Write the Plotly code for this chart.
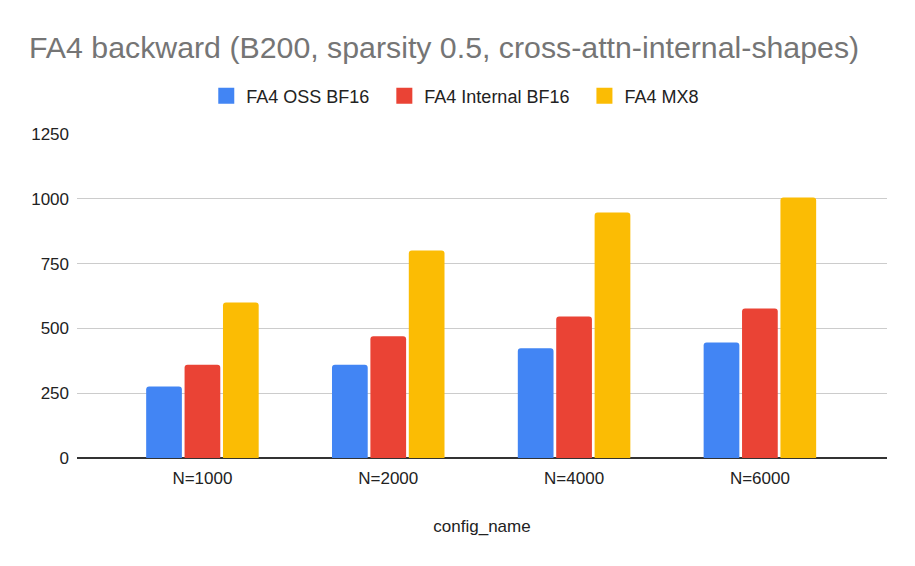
import plotly.graph_objects as go

# Chart data
config_names = ["N=1000", "N=2000", "N=4000", "N=6000"]
oss_bf16 = [276, 360, 423, 446]
internal_bf16 = [360, 470, 546, 577]
mx8 = [600, 801, 947, 1005]

y_ticks = [0, 250, 500, 750, 1000, 1250]

series = [
    ("FA4 OSS BF16", oss_bf16, "#4285F4"),
    ("FA4 Internal BF16", internal_bf16, "#EA4335"),
    ("FA4 MX8", mx8, "#FBBC04"),
]

FONT = "Liberation Sans, Arial, sans-serif"
NBSP = "\u00a0"

fig = go.Figure()
for i, (name, values, color) in enumerate(series):
    fig.add_trace(
        go.Bar(x=config_names, y=values, name=name, showlegend=False,
               marker=dict(color=color, cornerradius=3, line=dict(width=0)))
    )
    # legend proxy with a bigger square swatch, like the sheets chart
    label = name + (NBSP * 2 if i < len(series) - 1 else "")
    fig.add_trace(
        go.Scatter(x=[None], y=[None], mode="markers", name=label,
                   marker=dict(symbol="square", size=16, color=color),
                   hoverinfo="skip")
    )

# page body adds an 8px offset, so positions below are shifted back by 8px
fig.update_layout(
    width=915, height=566,
    paper_bgcolor="white", plot_bgcolor="white",
    font=dict(family=FONT, color="#222222"),
    barmode="group", bargap=0.38, bargroupgap=0.07,
    margin=dict(l=69, r=36, t=126, b=116),
    title=dict(
        text="FA4 backward (B200, sparsity 0.5, cross-attn-internal-shapes)",
        x=21 / 915, xanchor="left", xref="container",
        y=1 - 39 / 566, yanchor="middle", yref="container",
        font=dict(family=FONT, size=30.3, color="#757575"),
    ),
    legend=dict(
        orientation="h", x=0.467, xanchor="center",
        y=1.117, yanchor="middle",
        font=dict(family=FONT, size=18, color="#222222"),
        itemwidth=30, traceorder="normal",
    ),
    showlegend=True,
)

fig.update_xaxes(
    range=[-0.675, 3.684],
    showgrid=False, showline=False, ticks="",
    tickfont=dict(family=FONT, size=17, color="#222222"),
    ticklabelstandoff=8,
    title=dict(text="config_name", font=dict(family=FONT, size=17, color="#222222"), standoff=33),
)
fig.update_yaxes(
    range=[0, 1250], tickvals=y_ticks,
    showgrid=True, gridcolor="#CCCCCC", gridwidth=1,
    zeroline=True, zerolinecolor="#333333", zerolinewidth=1.5,
    tickfont=dict(family=FONT, size=17, color="#222222"), ticks="", ticklabelstandoff=7,
)

fig.write_html("out.html")
